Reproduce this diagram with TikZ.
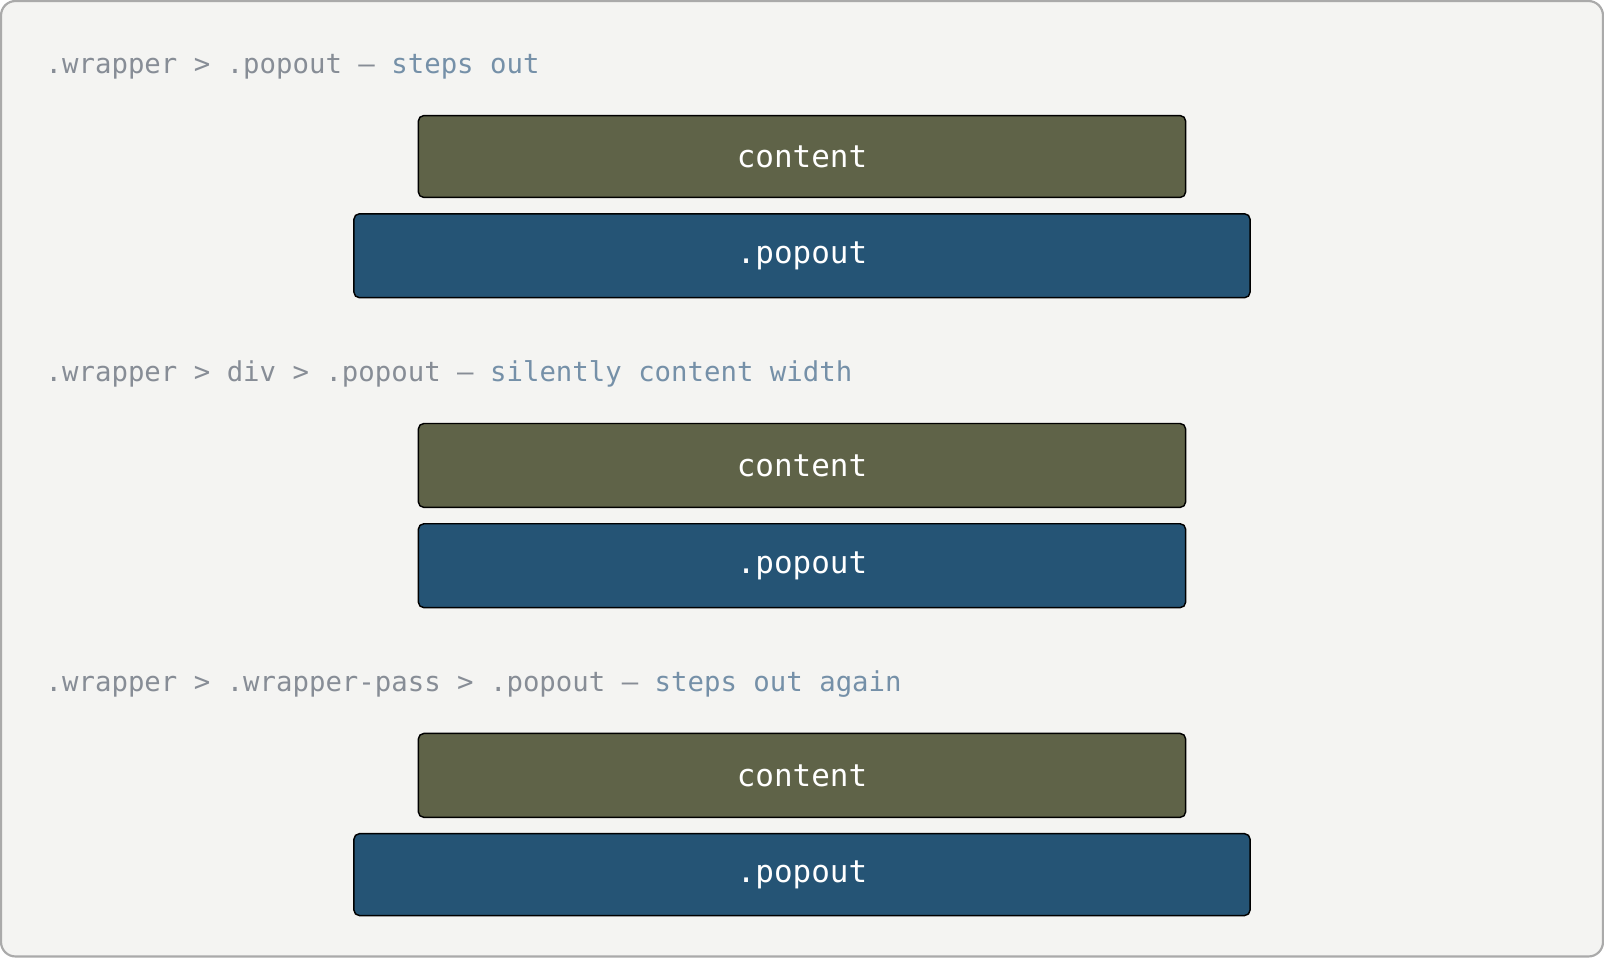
\documentclass[tikz,border=0pt]{standalone}
\usepackage{fontspec}
\setmonofont{DejaVu Sans Mono}
\begin{document}
\begin{tikzpicture}[x=0.01cm,y=-0.01cm,
 lab/.style={anchor=base west,inner sep=0,font=\ttfamily\fontsize{7.6pt}{9pt}\selectfont,text=gray1},
 bx/.style={rounded corners=1.5pt,font=\ttfamily\fontsize{8.6pt}{10pt}\selectfont,text=white},
 ol/.style={bx,fill=olive1}, bl/.style={bx,fill=blue1}]
\definecolor{olive1}{HTML}{5F6348}
\definecolor{blue1}{HTML}{255475}
\definecolor{gray1}{HTML}{878D96}
\definecolor{desc}{HTML}{7590A8}
\useasboundingbox (0,0) rectangle (1568,936);
\draw[fill={rgb,255:red,244;green,244;blue,242},draw={rgb,255:red,170;green,170;blue,170},line width=0.6pt,rounded corners=4pt] (1,1) rectangle (1567,935);
\node[lab] (l1) at (44,72) {.wrapper > .popout — \textcolor{desc}{steps out}};
\draw[ol] (409,113) rectangle (1159,193) node[midway] (c1) {content};
\draw[bl] (346,209) rectangle (1222,291) node[midway] (p1) {.popout};
\node[lab] (l2) at (44,373) {.wrapper > div > .popout — \textcolor{desc}{silently content width}};
\draw[ol] (409,414) rectangle (1159,496) node[midway] (c2) {content};
\draw[bl] (409,512) rectangle (1159,594) node[midway] (p2) {.popout};
\node[lab] (l3) at (44,676) {.wrapper > .wrapper-pass > .popout — \textcolor{desc}{steps out again}};
\draw[ol] (409,717) rectangle (1159,799) node[midway] (c3) {content};
\draw[bl] (346,815) rectangle (1222,895) node[midway] (p3) {.popout};
\end{tikzpicture}
\end{document}
